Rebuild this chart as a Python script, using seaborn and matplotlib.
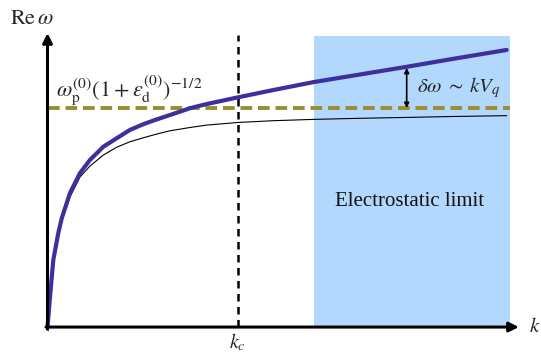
import numpy as np
import pandas as pd
import seaborn as sns
import matplotlib.pyplot as plt

# curves (k in arbitrary units, Re omega normalised to the plasma level)
k_vals = [0, 0.054, 0.125, 0.233, 0.307, 0.486, 0.702, 0.918, 1.205, 1.495, 1.782,
          2.069, 2.359, 2.646, 3.078, 3.438, 4.121, 4.877, 5.741, 6.749, 7.758, 8.693, 9.918]
omega_full = [0, 0.137, 0.306, 0.429, 0.496, 0.612, 0.703, 0.763, 0.823, 0.862, 0.900,
              0.926, 0.948, 0.968, 0.999, 1.018, 1.049, 1.082, 1.118, 1.153, 1.188, 1.222, 1.265]
omega_thin = [0, 0.135, 0.315, 0.420, 0.484, 0.594, 0.685, 0.735, 0.785, 0.821, 0.846,
              0.864, 0.881, 0.896, 0.911, 0.922, 0.934, 0.942, 0.948, 0.953, 0.957, 0.961, 0.965]

omega_level = 1.0        # omega_p (1+eps_d)^-1/2
k_c = 4.11
electro_range = [5.75, 9.99]
k_arrow = 7.758
k_max = 9.99

purple = '#3d2f9c'
olive = '#9b8d2f'
blue_fill = '#b3d8fd'

sns.set_theme(style='white')
plt.rcParams['font.family'] = ['Liberation Serif', 'DejaVu Serif']
plt.rcParams['mathtext.fontset'] = 'stix'

fig = plt.figure(figsize=(5.41, 3.54), dpi=100)
ax = fig.add_axes([0, 0, 1, 1])
ax.set_xlim(-1.026, 10.659)
ax.set_ylim(-0.123, 1.493)
ax.axis('off')

# electrostatic region
ax.axvspan(electro_range[0], electro_range[1], ymin=0.123 / 1.616, ymax=(1.329 + 0.123) / 1.616,
           color=blue_fill, lw=0, zorder=0)
ax.text(np.mean(electro_range) - 0.05, 0.575, 'Electrostatic limit', ha='center', va='center',
        fontsize=15, color='#111111')

df = pd.DataFrame({'k': k_vals, 'full': omega_full, 'thin': omega_thin})
sns.lineplot(data=df, x='k', y='thin', color='black', lw=0.8, ax=ax, zorder=3)
sns.lineplot(data=df, x='k', y='full', color=purple, lw=3.0, ax=ax, zorder=4)

# asymptotic level and k_c
ax.plot([0, k_max], [omega_level, omega_level], color=olive, lw=2.8, ls=(0, (3.0, 1.5)), zorder=2)
ax.plot([k_c, k_c], [0, 1.335], color='black', lw=1.8, ls=(0, (3.0, 2.2)), zorder=2)

# axes with arrow heads
ax.annotate('', xy=(10.18, 0), xytext=(-0.03, 0),
            arrowprops=dict(arrowstyle='-|>', color='black', lw=2.2, mutation_scale=14,
                            shrinkA=0, shrinkB=0), zorder=5)
ax.annotate('', xy=(0, 1.342), xytext=(0, -0.01),
            arrowprops=dict(arrowstyle='-|>', color='black', lw=2.2, mutation_scale=14,
                            shrinkA=0, shrinkB=0), zorder=5)
ax.plot([-0.08, 0.0], [0, 0], color='#aaaaaa', lw=0.8, zorder=1)
ax.plot([0, 0], [-0.02, 0], color='#aaaaaa', lw=0.8, zorder=1)

# delta omega arrow
ax.annotate('', xy=(k_arrow, omega_full[20] - 0.005), xytext=(k_arrow, omega_level),
            arrowprops=dict(arrowstyle='<|-|>', color='black', lw=1.2, mutation_scale=7,
                            shrinkA=0, shrinkB=0), zorder=6)

ax.text(-0.33, 1.402, r'$\mathrm{Re}\,\omega$', ha='center', va='center', fontsize=16)
ax.text(10.53, 0.0, r'$k$', ha='center', va='center', fontsize=15)
ax.text(k_c, -0.072, r'$k_c$', ha='center', va='center', fontsize=14.5)
ax.text(0.18, 1.055, r'$\omega_{\mathrm{p}}^{(0)}(1+\varepsilon_{\mathrm{d}}^{(0)})^{-1/2}$',
        ha='left', va='baseline', fontsize=16)
ax.text(7.98, 1.073, r'$\delta\omega\;\sim\;kV_q$', ha='left', va='baseline', fontsize=15)

plt.savefig('out.png', dpi=100)
